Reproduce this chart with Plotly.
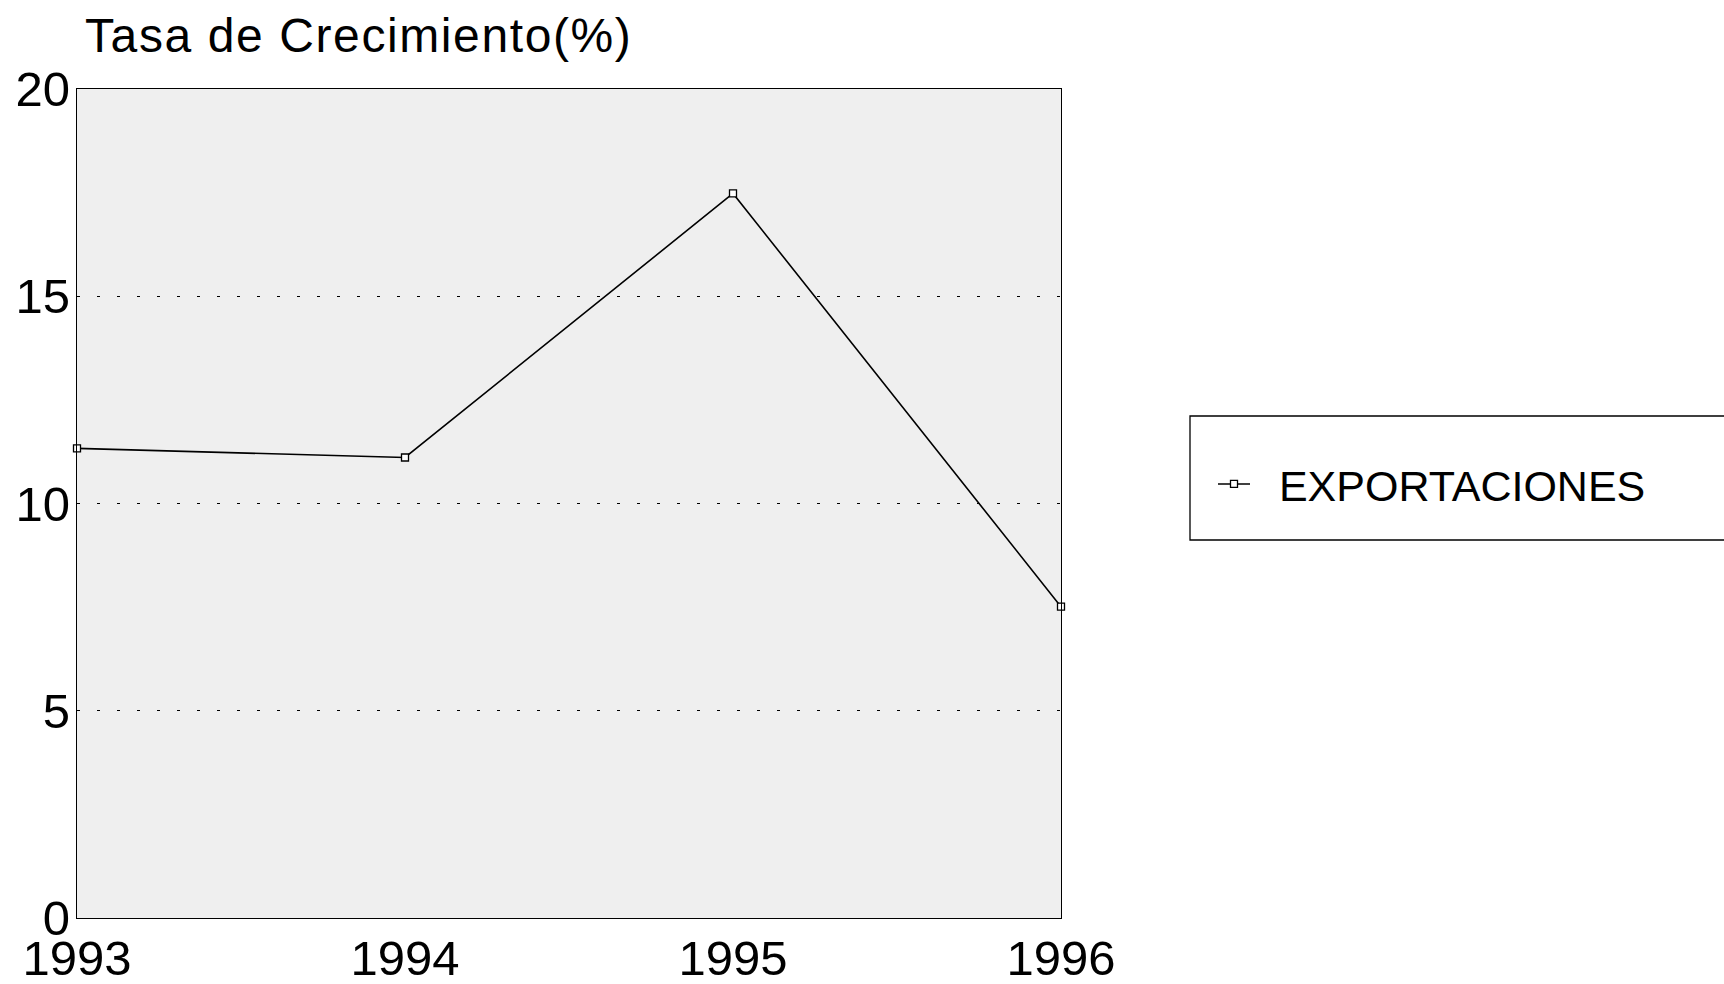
import plotly.graph_objects as go

years = [1993, 1994, 1995, 1996]
exportaciones = [11.33, 11.11, 17.48, 7.51]
series_name = "EXPORTACIONES"
y_title = "Tasa de Crecimiento(%)"
y_ticks = [0, 5, 10, 15, 20]

W, H = 1724, 984
L, R, T, B = 77, 1061, 89, 918


def px_x(p):
    return (p - L) / (R - L)


def px_y(p):
    return (B - p) / (B - T)


fig = go.Figure()
fig.add_trace(go.Scatter(
    x=years, y=exportaciones, name="\u00a0\u00a0" + series_name, mode="lines+markers",
    line=dict(color="black", width=1.6),
    marker=dict(symbol="square", size=7, color="white", line=dict(color="black", width=1.3)),
    cliponaxis=False,
))

font = "Liberation Sans, Arial, sans-serif"
fig.update_layout(
    width=W, height=H,
    margin=dict(l=L, r=W - R, t=T, b=H - B, autoexpand=False),
    paper_bgcolor="white", plot_bgcolor="#efefef",
    showlegend=True,
    legend=dict(x=px_x(1213), y=px_y(484), xanchor="left", yanchor="middle",
                bgcolor="rgba(0,0,0,0)", borderwidth=0,
                font=dict(family=font, size=43, color="black"), itemwidth=32),
    xaxis=dict(range=[1993, 1996], tickvals=years, ticktext=[str(y) for y in years],
               showgrid=False, zeroline=False, showline=True, linecolor="black", linewidth=1.3,
               mirror=True, ticks="", tickfont=dict(family=font, size=49, color="black"),
               ticklabelstandoff=-3),
    yaxis=dict(range=[0, 20], tickvals=y_ticks, showgrid=True, gridcolor="black", gridwidth=1.3,
               griddash="3px,17px", zeroline=False, showline=True, linecolor="black", linewidth=1.3,
               mirror=True, ticks="", tickfont=dict(family=font, size=49, color="black"),
               ticklabelstandoff=-4),
    annotations=[dict(text="<span style='letter-spacing:1.6px'>" + y_title + "</span>",
                      xref="paper", yref="paper", x=px_x(83),
                      y=px_y(7), xanchor="left", yanchor="top", showarrow=False,
                      font=dict(family=font, size=48, color="black"))],
    shapes=[dict(type="rect", xref="paper", yref="paper",
                 x0=px_x(1190), x1=px_x(1760),
                 y0=px_y(540), y1=px_y(416),
                 line=dict(color="black", width=1.3), fillcolor="rgba(0,0,0,0)", layer="above")],
)

fig.write_html(
    "out.html",
    config={"displayModeBar": False},
    post_script="document.documentElement.style.margin='0';document.body.style.margin='0';"
                "document.body.style.overflow='hidden';document.documentElement.style.overflow='hidden';",
)
